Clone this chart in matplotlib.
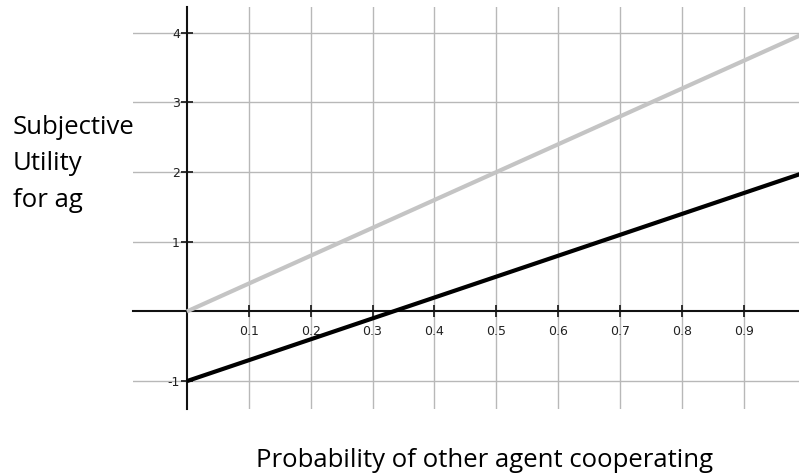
import numpy as np
import matplotlib.pyplot as plt

# probability of the other agent cooperating
p = [0.0, 1.0]
util_cooperate = [0.0, 4.0]   # grey line
util_defect = [-1.0, 2.0]     # black line
xticks = [0.1, 0.2, 0.3, 0.4, 0.5, 0.6, 0.7, 0.8, 0.9]
yticks = [-1, 1, 2, 3, 4]

fig = plt.figure(figsize=(7.99, 4.74), dpi=100)
ax = fig.add_axes([133 / 799, 65 / 474, 666 / 799, 402 / 474])

ax.plot(p, util_cooperate, color='#c4c4c4', lw=3, solid_capstyle='butt', zorder=3)
ax.plot(p, util_defect, color='black', lw=3, solid_capstyle='butt', zorder=3)

ax.set_xlim(-0.087, 0.989)
ax.set_ylim(-1.40, 4.37)

for s in ['top', 'right']:
    ax.spines[s].set_visible(False)
for s in ['left', 'bottom']:
    ax.spines[s].set_position(('data', 0))
    ax.spines[s].set_linewidth(1.5)
    ax.spines[s].set_color('#111111')

ax.set_xticks(xticks)
ax.set_xticklabels([f'{t:g}' for t in xticks])
ax.set_yticks(yticks)
ax.set_yticklabels([str(t) for t in yticks])
ax.tick_params(direction='inout', length=8, width=1.3, labelsize=9, colors='#222222', pad=6)
ax.tick_params(axis='y', pad=1)

ax.grid(True, color='#b8b8b8', lw=1.0, zorder=0)
ax.set_axisbelow(True)

fig.text(13 / 799, 1 - 115 / 474, 'Subjective\nUtility\nfor ag', ha='left', va='top',
         fontsize=18.5, family='Open Sans', linespacing=1.6)
fig.text(485 / 799, 7 / 474, 'Probability of other agent cooperating', ha='center', va='baseline',
         fontsize=18.5, family='Open Sans')

fig.savefig('out.png', dpi=100)
